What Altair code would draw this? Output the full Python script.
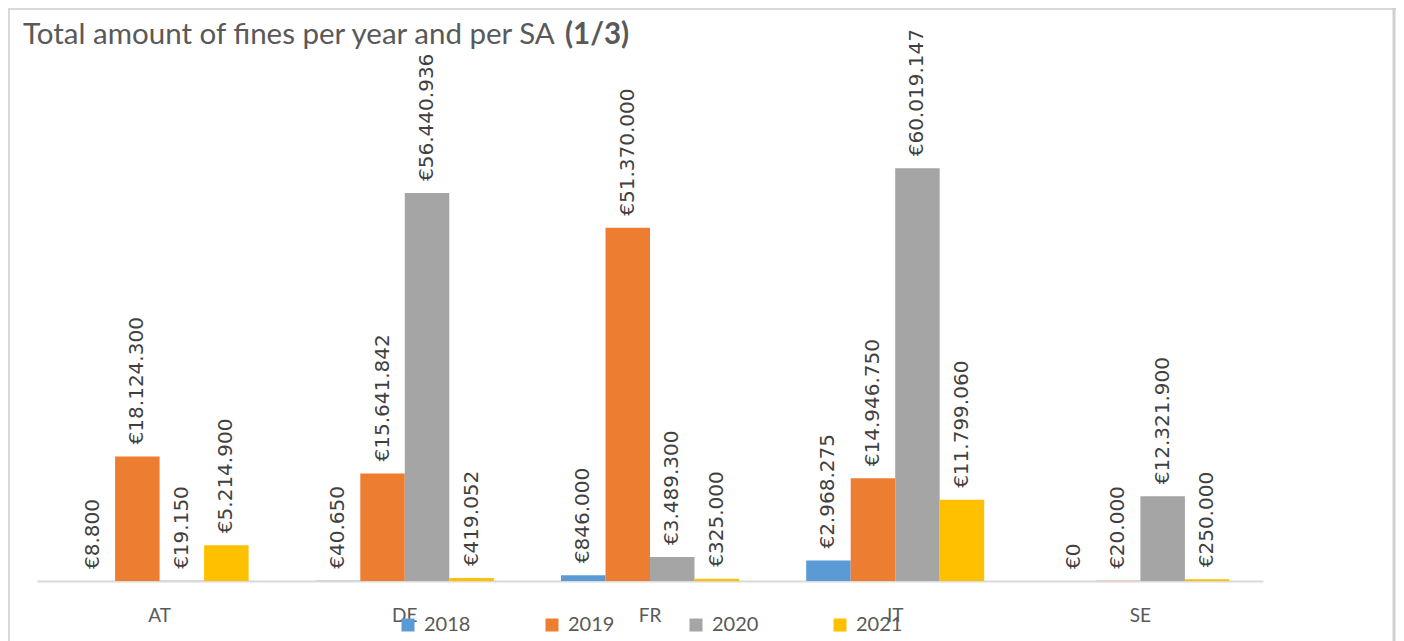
import altair as alt
import pandas as pd

# ---- data ----
countries = ["AT", "DE", "FR", "IT", "SE"]
years = ["2018", "2019", "2020", "2021"]
fines_2018 = [8800, 40650, 846000, 2968275, 0]
fines_2019 = [18124300, 15641842, 51370000, 14946750, 20000]
fines_2020 = [19150, 56440936, 3489300, 60019147, 12321900]
fines_2021 = [5214900, 419052, 325000, 11799060, 250000]
colors = ["#5b9bd5", "#ed7d31", "#a5a5a5", "#ffc000"]
title_main = "Total amount of fines per year and per SA"
title_bold = "(1/3)"


def euro(v):
    return "€" + f"{v:,}".replace(",", ".")


rows = []
for yr, vals in zip(years, [fines_2018, fines_2019, fines_2020, fines_2021]):
    for c, v in zip(countries, vals):
        rows.append({"country": c, "year": yr, "value": v, "label": euro(v)})
df = pd.DataFrame(rows)

W, H = 1226, 521
YMAX = 75.77e6

base = alt.Chart(df).encode(
    x=alt.X(
        "country:N",
        sort=countries,
        scale=alt.Scale(paddingInner=0.274, paddingOuter=0.137),
        axis=alt.Axis(
            title=None, labelAngle=0, ticks=False, tickSize=0, labelPadding=25,
            labelFont="Lato", labelFontSize=19, labelColor="#595959",
            domainColor="#d9d9d9", domainWidth=2, grid=False,
        ),
    ),
    xOffset=alt.XOffset("year:N", sort=years, scale=alt.Scale(paddingInner=0, paddingOuter=0)),
    y=alt.Y("value:Q", scale=alt.Scale(domain=[0, YMAX]), axis=None),
)

bars = base.mark_bar().encode(
    color=alt.Color(
        "year:N",
        sort=years,
        scale=alt.Scale(domain=years, range=colors),
        legend=alt.Legend(
            title=None, orient="none", legendX=361, legendY=555, direction="horizontal",
            symbolType="square", symbolSize=169, symbolStrokeWidth=0,
            labelFont="Lato", labelFontSize=20, labelColor="#595959",
            labelOffset=6, columnPadding=71, padding=0,
        ),
    )
)

labels = base.mark_text(
    angle=270, align="left", baseline="middle", dx=12,
    font="DejaVu Sans", fontSize=20, color="#404040",
).encode(text="label:N")

title1 = alt.Chart(pd.DataFrame({"t": [title_main]})).mark_text(
    align="left", baseline="alphabetic", font="Lato", fontSize=29.5, color="#595959"
).encode(x=alt.value(-14), y=alt.value(-16), text="t:N")

title2 = alt.Chart(pd.DataFrame({"t": [title_bold]})).mark_text(
    align="left", baseline="alphabetic", font="Lato", fontSize=29.5, fontWeight="bold", color="#595959"
).encode(x=alt.value(528), y=alt.value(-16), text="t:N")

frame_df = pd.DataFrame({"k": [0]})
frame_top = alt.Chart(frame_df).mark_rule(color="#d9d9d9", strokeWidth=2).encode(
    x=alt.value(-29), x2=alt.value(1359), y=alt.value(-51)
)
frame_left = alt.Chart(frame_df).mark_rule(color="#d9d9d9", strokeWidth=2).encode(
    x=alt.value(-28), y=alt.value(-52), y2=alt.value(H + 70)
)
frame_right = alt.Chart(frame_df).mark_rule(color="#d0d0d0", strokeWidth=3).encode(
    x=alt.value(1357), y=alt.value(-52), y2=alt.value(H + 70)
)

chart = alt.layer(frame_top, frame_left, frame_right, bars, labels, title1, title2).properties(
    width=W,
    height=H,
    padding={"left": 29, "top": 52, "right": 133, "bottom": 61},
    autosize=alt.AutoSizeParams(type="none"),
).configure(background="white", view=alt.ViewConfig(stroke=None))

chart.save("out.html", embed_options={"renderer": "svg", "actions": False})
